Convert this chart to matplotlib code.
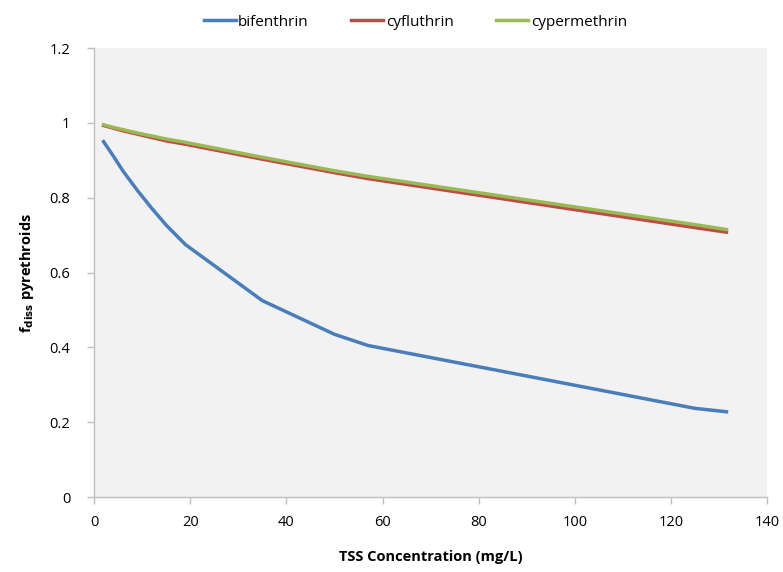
import matplotlib
matplotlib.use("Agg")
import matplotlib.pyplot as plt

plt.rcParams['font.family'] = ['Open Sans', 'DejaVu Sans']

# TSS concentration (mg/L)
tss = [2, 4, 6, 9, 12, 15, 19, 35, 50, 57, 125, 131.5]
bifenthrin = [0.95, 0.912, 0.872, 0.82, 0.772, 0.727, 0.675, 0.525, 0.435, 0.405, 0.237, 0.228]
cyfluthrin = [0.993, 0.986, 0.979, 0.970, 0.961, 0.952, 0.943, 0.903, 0.867, 0.851, 0.720, 0.708]
cypermethrin = [0.995, 0.988, 0.982, 0.973, 0.965, 0.957, 0.948, 0.908, 0.872, 0.857, 0.728, 0.715]

fig = plt.figure(figsize=(7.83, 5.72), dpi=100)
ax = fig.add_axes([0.120, 0.131, 0.860, 0.785])
ax.set_facecolor('#F2F2F2')

ax.plot(tss, bifenthrin, color='#4A7EBB', lw=2.5, label='bifenthrin')
ax.plot(tss, cyfluthrin, color='#BE4B48', lw=2.5, label='cyfluthrin')
ax.plot(tss, cypermethrin, color='#98B954', lw=2.5, label='cypermethrin')

ax.set_xlim(0, 140)
ax.set_ylim(0, 1.2)
ax.set_xticks([0, 20, 40, 60, 80, 100, 120, 140])
ax.set_yticks([0, 0.2, 0.4, 0.6, 0.8, 1.0, 1.2])
ax.set_yticklabels(['0', '0.2', '0.4', '0.6', '0.8', '1', '1.2'])

for s in ['top', 'right']:
    ax.spines[s].set_visible(False)
for s in ['left', 'bottom']:
    ax.spines[s].set_color('#BFBFBF')
    ax.spines[s].set_linewidth(1)
ax.tick_params(axis='both', colors='#BFBFBF', labelcolor='black', labelsize=10.5,
               length=5, width=1, direction='out')
ax.tick_params(axis='y', pad=12)
ax.tick_params(axis='x', pad=8)

ax.set_xlabel('TSS Concentration (mg/L)', fontsize=10.5, fontweight='bold', labelpad=14)
ax.set_ylabel(r'f$_{\mathbf{diss}}$ pyrethroids', fontsize=10.5, fontweight='bold', labelpad=10)

ax.legend(loc='lower center', bbox_to_anchor=(0.477, 1.0), ncol=3, frameon=False,
          fontsize=11, handlelength=2.1, handletextpad=0.15, columnspacing=2.8,
          borderaxespad=0.8)

fig.savefig('out.png', dpi=100, facecolor='white')
